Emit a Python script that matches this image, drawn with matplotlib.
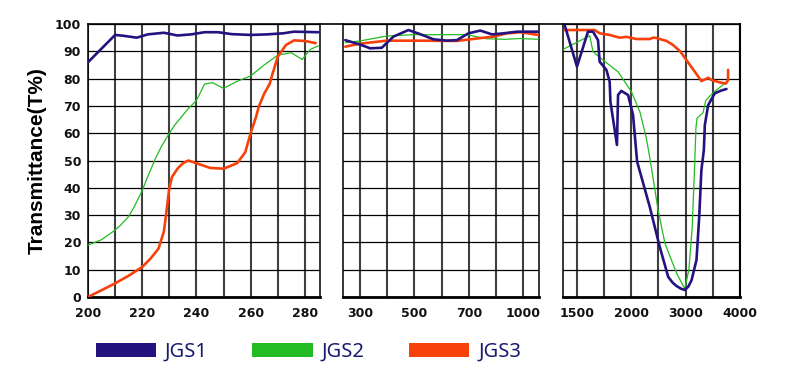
import numpy as np
import matplotlib
matplotlib.use("Agg")
import matplotlib.pyplot as plt
from matplotlib.patches import Patch
from matplotlib.lines import Line2D

# series names and colours
names = ["JGS1", "JGS2", "JGS3"]
colors = ["#24127f", "#22bb22", "#f8400a"]
widths = [1.9, 0.9, 1.9]

# UV part (200-285 nm)
jgs1_uv_x = [200, 205, 210, 213, 218, 222, 228, 233, 238, 243, 248, 253, 260, 266, 272, 276, 285]
jgs1_uv_y = [86, 91, 96, 95.7, 95, 96.2, 96.8, 95.8, 96.2, 97, 97, 96.3, 96, 96.2, 96.6, 97.2, 97]
jgs2_uv_x = [200, 205, 210, 212, 215, 217, 220, 222, 225, 227, 230, 232, 235, 237, 240, 243, 246, 250,
             255, 260, 265, 270, 275, 279, 282, 285]
jgs2_uv_y = [19, 21, 24.5, 26.3, 29.5, 33, 39, 44, 51, 55, 60, 63, 66.6, 69, 72, 78, 78.5, 76.4,
             79, 81, 85, 88.6, 89.5, 87, 90.7, 92]
jgs3_uv_x = [200, 205, 210, 215, 220, 223, 226, 228, 229, 230, 231, 233, 235, 237, 240, 245, 250, 255,
             258, 260, 262, 263, 265, 267, 268, 270, 273, 276, 280, 284]
jgs3_uv_y = [0, 2.5, 5, 7.8, 11, 14, 17.7, 24, 31.8, 40, 44, 47, 49, 50, 49, 47.3, 47, 49,
             53, 60, 66, 69.7, 74.5, 78, 81.5, 88, 92.3, 94, 93.8, 93]

# visible part
jgs1_vis_x = [287, 300, 337, 380, 423, 478, 521, 570, 619, 656, 699, 763, 828, 892, 966, 1096]
jgs1_vis_y = [94.1, 92.5, 91.1, 91.3, 95.4, 97.8, 96.3, 94.4, 93.9, 94.1, 96.6, 97.6, 96.2, 96.6, 97.2, 97.2]
jgs2_vis_x = [287, 300, 398, 496, 594, 693, 799, 900, 984, 1096]
jgs2_vis_y = [93.2, 93.8, 95.6, 96.1, 96.1, 96.1, 94.6, 94.4, 94.7, 94.4]
jgs3_vis_x = [287, 300, 398, 521, 656, 744, 837, 910, 984, 1096]
jgs3_vis_y = [91.7, 92.8, 93.9, 93.9, 93.8, 94.7, 95.4, 96.6, 97, 96]

# IR part
jgs1_ir_x = [1280, 1503, 1604, 1650, 1696, 1711, 1773, 1803, 1810, 1870, 1880, 1910, 1972, 2035, 2110,
             2341, 2525, 2680, 2760, 2835, 2920, 2985, 3050, 3110, 3200, 3250, 3290, 3335, 3353, 3414,
             3535, 3650, 3750]
jgs1_ir_y = [99.6, 84.4, 97.2, 97.2, 94.1, 86.2, 83.2, 78.9, 71.5, 55.7, 74, 75.5, 74, 66.7, 49.6,
             33.1, 18.4, 7.4, 5.3, 4.0, 3.0, 2.6, 3.8, 6.2, 13.6, 29.4, 46.5, 53.8, 63, 70.3,
             74.6, 75.6, 76.2]
jgs2_ir_x = [1260, 1620, 1650, 1742, 1880, 2005, 2160, 2280, 2355, 2495, 2620, 2835, 2985, 3060,
             3120, 3160, 3190, 3210, 3320, 3370, 3505, 3720, 3765]
jgs2_ir_y = [90.8, 95.7, 89.9, 86.8, 82.5, 75.2, 67.9, 58.1, 49.6, 31.9, 19.7, 8.7, 3.0, 10,
             25, 45, 62, 65.5, 67.5, 72, 74.8, 78.3, 79]
jgs3_ir_x = [1280, 1665, 1711, 1803, 1895, 1957, 2097, 2341, 2405, 2465, 2525, 2650, 2770, 2900, 3015,
             3170, 3290, 3415, 3475, 3630, 3740, 3780, 3780]
jgs3_ir_y = [97.8, 97.8, 96.6, 96, 95, 95.3, 94.5, 94.5, 95, 94.9, 94.5, 93.8, 92.3, 90, 86.8,
             82.5, 79.1, 80.3, 79.5, 78.6, 78.2, 79.5, 83.2]

# ticks / gridlines
uv_ticks = [200, 210, 220, 230, 240, 250, 260, 270, 280]
uv_labels = ["200", "", "220", "", "240", "", "260", "", "280"]
vis_ticks = [300, 400, 500, 600, 700, 850, 1000]
vis_labels = ["300", "", "500", "", "700", "", "1000"]
ir_ticks = [1500, 1750, 2000, 2500, 3000, 3500, 4000]
ir_labels = ["1500", "", "2000", "", "3000", "", "4000"]
y_ticks = list(range(0, 101, 10))

# piecewise scales for the broken axes
vis_knots_w = [285, 300, 400, 500, 600, 700, 850, 1000, 1100]
vis_knots_u = [-0.625, 0, 1, 2, 3, 4, 5, 6, 6.58]
ir_knots_w = [1250, 1500, 1750, 2000, 2500, 3000, 3500, 4000]
ir_knots_u = [-0.5, 0, 1, 2, 3, 4, 5, 6]


def piecewise(kw, ku):
    return (lambda x: np.interp(x, kw, ku), lambda u: np.interp(u, ku, kw))


fig = plt.figure(figsize=(7.9, 3.69), dpi=100)
bottom, height = 0.1951, 0.7398
ax1 = fig.add_axes([0.1114, bottom, 0.2937, height])
ax2 = fig.add_axes([0.4342, bottom, 0.2481, height])
ax3 = fig.add_axes([0.7127, bottom, 0.2241, height])

ax2.set_xscale("function", functions=piecewise(vis_knots_w, vis_knots_u))
ax3.set_xscale("function", functions=piecewise(ir_knots_w, ir_knots_u))

data = [
    (ax1, [(jgs1_uv_x, jgs1_uv_y), (jgs2_uv_x, jgs2_uv_y), (jgs3_uv_x, jgs3_uv_y)]),
    (ax2, [(jgs1_vis_x, jgs1_vis_y), (jgs2_vis_x, jgs2_vis_y), (jgs3_vis_x, jgs3_vis_y)]),
    (ax3, [(jgs1_ir_x, jgs1_ir_y), (jgs2_ir_x, jgs2_ir_y), (jgs3_ir_x, jgs3_ir_y)]),
]
zorders = [5, 3, 4]
for ax, series in data:
    for (x, y), c, lw, z in zip(series, colors, widths, zorders):
        ax.plot(x, y, color=c, lw=lw, zorder=z, solid_capstyle="round", solid_joinstyle="round")

ax1.set_xlim(200, 285.6)
ax2.set_xlim(285, 1100)
ax3.set_xlim(1250, 4000)

tick_font = dict(fontsize=9, fontweight="bold", color="#111111")
for ax, ticks, labels in [(ax1, uv_ticks, uv_labels), (ax2, vis_ticks, vis_labels), (ax3, ir_ticks, ir_labels)]:
    ax.set_ylim(0, 100)
    ax.set_xticks(ticks)
    ax.set_xticklabels(labels, **tick_font)
    ax.set_yticks(y_ticks)
    ax.tick_params(length=0, pad=7)
    ax.grid(axis="x", color="#404040", lw=1.5)
    ax.grid(axis="y", color="black", lw=0.9)
    ax.set_axisbelow(True)
    ax.spines["top"].set_visible(False)
    ax.spines["bottom"].set_linewidth(2)
    ax.spines["left"].set_linewidth(1.1)
    ax.spines["right"].set_linewidth(1.1)

ax1.set_yticklabels([str(v) for v in y_ticks], **tick_font)
ax1.tick_params(axis="y", pad=5)
ax2.set_yticklabels([])
ax3.set_yticklabels([])
ax3.spines["right"].set_linewidth(1.5)

ax1.set_ylabel("Transmittance(T%)", fontsize=15, fontweight="bold",
               family="Liberation Sans", labelpad=6)

# continuous top border across the breaks
p1, p3 = ax1.get_position(), ax3.get_position()
fig.add_artist(Line2D([p1.x0, p3.x1], [p1.y1, p1.y1], color="black", lw=1.2,
                      transform=fig.transFigure))

handles = [Patch(facecolor=c, edgecolor="none") for c in colors]
leg = fig.legend(handles, names, loc="center left", bbox_to_anchor=(0.098, 0.046),
                 ncol=3, frameon=False, handlelength=3.0, handleheight=0.65,
                 handletextpad=0.45, columnspacing=2.2,
                 prop={"family": "Noto Sans", "size": 14.5})
for t in leg.get_texts():
    t.set_color("#1a1a6e")

fig.savefig("out.png", dpi=100)
